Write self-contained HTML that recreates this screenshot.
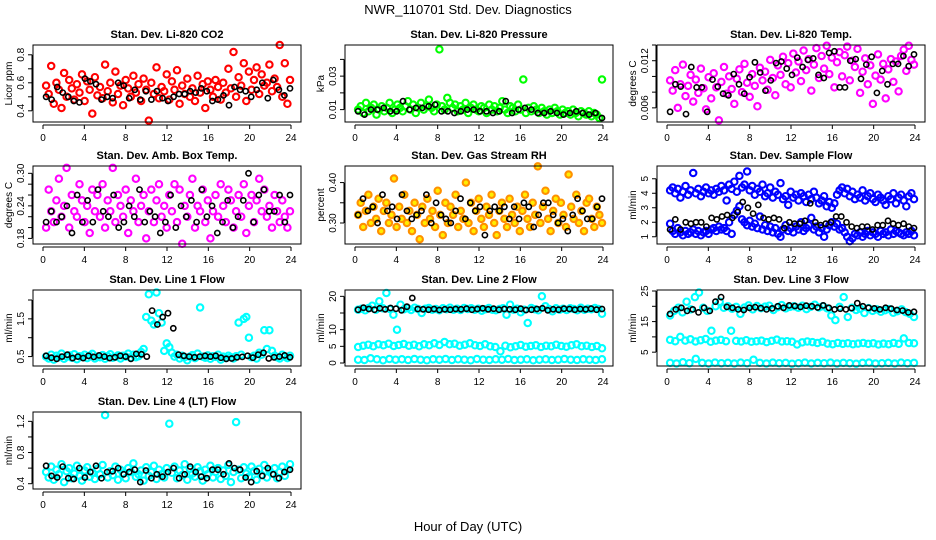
<!DOCTYPE html>
<html><head><meta charset="utf-8"><style>
html,body{margin:0;padding:0;background:#fff;}
svg{display:block;font-family:"Liberation Sans",Arial,sans-serif;}
</style></head><body>
<svg id="chart" width="936" height="540" viewBox="0 0 936 540" xmlns="http://www.w3.org/2000/svg">
<text x="468" y="14" text-anchor="middle" font-size="13">NWR_110701  Std. Dev. Diagnostics</text>
<text x="468" y="531" text-anchor="middle" font-size="13">Hour of Day (UTC)</text>
</svg>
<script>
// ---- data ----
const xTicks = [0,4,8,12,16,20,24];
const co2Red = [.58,.52,.72,.45,.60,.55,.42,.67,.50,.62,.56,.48,.59,.53,.66,.47,.61,.55,.38,.64,.51,.57,.49,.73,.54,.60,.46,.68,.52,.58,.44,.62,.56,.50,.65,.53,.59,.47,.63,.55,.33,.60,.52,.71,.49,.57,.54,.66,.48,.61,.55,.69,.45,.58,.52,.63,.50,.56,.47,.65,.53,.59,.42,.61,.55,.50,.62,.57,.48,.60,.53,.70,.56,.82,.50,.64,.58,.74,.47,.68,.55,.62,.71,.52,.66,.58,.60,.73,.54,.63,.57,.87,.50,.74,.45,.62];
const co2Black = [.50,.48,.57,.53,.50,.47,.46,.63,.61,.59,.48,.50,.49,.60,.58,.49,.55,.48,.54,.48,.54,.49,.47,.50,.52,.52,.54,.53,.56,.54,.47,.48,.51,.44,.57,.55,.54,.50,.55,.60,.49,.62,.55,.51,.56];
const presGreen = [.010,.012,.008,.014,.009,.011,.013,.007,.010,.012,.009,.011,.014,.008,.010,.013,.011,.009,.012,.015,.010,.013,.008,.011,.014,.010,.012,.016,.011,.009,.013,.046,.012,.010,.017,.014,.011,.013,.009,.012,.010,.014,.008,.011,.013,.010,.009,.012,.011,.008,.013,.010,.012,.009,.011,.015,.010,.008,.012,.011,.009,.013,.010,.028,.008,.011,.009,.012,.010,.008,.011,.009,.007,.010,.008,.011,.009,.007,.010,.008,.009,.007,.010,.008,.006,.009,.008,.007,.009,.006,.008,.007,.005,.028];
const presBlack = [.009,.007,.010,.010,.011,.009,.009,.015,.010,.011,.011,.012,.013,.009,.009,.008,.009,.010,.010,.009,.009,.008,.009,.015,.008,.010,.011,.010,.008,.008,.009,.008,.007,.008,.009,.008,.007,.008,.005];
const tempMag = [9.5,8.2,10.8,6.0,9.0,11.5,7.5,8.8,10.2,6.8,9.6,7.9,11.0,8.5,5.8,9.9,7.2,10.4,8.6,4.4,9.3,11.2,7.8,10.0,8.4,6.5,9.7,10.9,8.0,11.6,9.2,7.4,10.3,8.8,6.2,11.1,9.5,10.6,8.3,12.1,9.8,7.6,11.4,10.2,12.5,9.0,11.7,8.6,12.9,10.5,11.9,9.4,13.3,10.8,12.2,8.2,11.5,13.6,9.8,12.6,11.0,13.9,10.3,12.4,8.6,11.8,13.1,10.0,12.7,13.8,9.5,12.0,11.2,13.5,7.9,10.6,12.3,9.0,11.4,6.5,10.1,12.8,9.6,11.6,7.2,10.9,12.2,9.3,11.9,8.1,12.6,13.4,10.7,13.9,12.1,11.5];
const tempBlack = [5.5,9.0,8.7,5.2,11.2,8.6,8.6,5.5,9.6,8.7,7.8,7.6,10.3,9.0,7.8,9.9,11.8,10.5,8.2,9.5,11.7,11.9,11.0,10.2,12.4,11.2,12.1,12.3,10.2,9.8,13.0,13.2,8.6,8.6,12.0,12.2,9.7,11.5,12.5,7.9,10.7,9.0,11.6,11.6,12.6,11.3,12.8];
const ambMag = [.20,.27,.23,.21,.25,.29,.22,.24,.31,.20,.26,.23,.22,.28,.25,.21,.24,.19,.27,.23,.26,.22,.28,.20,.25,.23,.31,.21,.26,.24,.22,.27,.19,.25,.23,.29,.21,.24,.26,.18,.23,.27,.21,.25,.28,.22,.24,.20,.26,.23,.28,.21,.27,.17,.24,.22,.26,.29,.20,.24,.23,.27,.21,.25,.18,.23,.26,.22,.28,.24,.21,.27,.25,.20,.23,.26,.22,.28,.19,.24,.26,.21,.25,.29,.23,.27,.22,.24,.20,.26,.23,.21,.25,.22,.20,.23];
const ambBlack = [.21,.23,.21,.22,.24,.19,.26,.21,.25,.21,.27,.23,.22,.26,.20,.21,.24,.22,.27,.21,.23,.22,.19,.21,.26,.20,.24,.22,.25,.21,.27,.22,.24,.19,.21,.25,.20,.22,.25,.30,.21,.26,.27,.23,.23,.26,.21,.26];
const rhOrange = [.32,.35,.29,.33,.37,.30,.34,.31,.36,.28,.33,.35,.30,.32,.41,.29,.34,.31,.37,.30,.33,.28,.35,.32,.26,.34,.30,.36,.31,.33,.29,.38,.32,.27,.35,.30,.34,.32,.37,.29,.33,.31,.40,.30,.35,.28,.33,.36,.31,.29,.34,.32,.37,.30,.27,.33,.35,.31,.29,.36,.32,.30,.34,.28,.33,.37,.31,.29,.35,.32,.44,.30,.34,.38,.31,.28,.33,.36,.30,.35,.32,.29,.42,.34,.31,.37,.30,.33,.28,.35,.36,.31,.29,.34,.32,.30];
const rhBlack = [.32,.36,.33,.34,.30,.37,.33,.34,.31,.37,.33,.31,.32,.33,.37,.30,.35,.32,.31,.30,.33,.36,.31,.35,.33,.34,.27,.33,.34,.33,.34,.31,.34,.31,.35,.34,.29,.32,.35,.35,.32,.30,.31,.28,.32,.36,.33,.31,.31,.34,.36];
const flowUpper = [4.2,4.4,4.0,4.3,3.7,4.1,4.5,3.9,4.2,5.4,4.0,4.3,3.8,4.1,4.4,4.0,4.2,3.9,4.3,4.1,4.5,4.2,3.5,4.6,4.3,4.8,4.1,5.2,4.4,4.6,5.5,4.2,4.5,3.9,4.3,4.1,4.6,3.8,4.0,4.4,3.7,4.1,3.9,4.7,3.6,3.8,3.2,4.1,3.7,3.9,3.5,4.0,3.8,3.4,3.9,3.6,4.1,3.7,3.3,3.5,3.8,3.1,3.4,3.0,3.3,3.9,4.2,4.4,4.0,4.3,3.8,4.1,3.6,3.9,3.7,4.2,3.5,3.8,4.0,3.6,3.4,3.9,3.7,3.5,3.2,3.8,3.6,4.0,3.3,3.7,3.9,3.5,3.1,3.8,4.0,3.6];
const flowLower = [1.9,1.4,1.2,1.6,1.3,1.1,1.4,1.2,1.3,1.5,1.2,1.4,1.1,1.3,1.4,1.2,1.5,1.6,1.4,1.7,1.5,1.6,1.4,2.0,1.2,2.5,2.8,3.1,2.2,2.0,1.8,2.1,1.7,1.9,1.6,2.4,1.5,1.8,1.4,1.7,1.3,1.6,1.2,1.0,1.5,1.8,1.4,1.6,1.3,1.7,1.5,2.0,1.4,1.6,1.8,2.3,1.5,1.7,1.3,1.6,1.0,1.5,1.8,2.0,1.7,1.9,1.5,1.6,1.3,1.0,0.7,0.9,1.2,1.1,1.3,1.0,1.2,1.4,1.1,1.3,1.2,1.0,1.4,1.2,1.3,1.1,1.5,1.2,1.4,1.3,1.2,1.1,1.3,1.2,1.4,1.1];
const flowBlack = [1.5,2.2,1.5,2.0,1.9,2.0,2.0,1.7,2.3,2.2,2.4,2.5,2.3,2.7,3.4,3.0,2.6,3.2,2.3,2.2,2.3,2.2,1.6,2.0,1.9,1.9,2.1,3.3,2.0,1.8,1.9,2.0,2.4,2.4,2.0,1.7,1.6,1.7,1.7,1.5,1.8,1.8,2.1,1.9,1.8,1.9,1.7,1.6];
const line1Cyan = [.50,.45,.55,.42,.52,.48,.58,.44,.50,.53,.47,.56,.43,.51,.49,.55,.46,.52,.57,.45,.50,.48,.54,.44,.51,.56,.47,.49,.53,.45,.52,.50,.58,.47,.55,.48,.51,.62,.70,1.55,2.15,1.45,1.35,2.20,1.65,1.40,.65,.85,.75,.60,.50,.55,.45,.52,.48,.40,.50,.54,.46,.58,1.80,.50,.47,.53,.44,.51,.49,.55,.42,.50,.46,.52,.48,.45,.51,1.40,.55,1.50,1.55,1.00,.48,.52,.45,.60,.55,1.20,.70,1.20,.65,.52,.48,.45,.55,.50,.46,.52];
const line1Black = [.52,.47,.44,.50,.55,.46,.50,.46,.52,.49,.53,.50,.46,.48,.52,.50,.44,.57,.56,.50,1.72,1.35,1.55,1.65,1.25,.55,.52,.50,.48,.50,.52,.50,.52,.47,.44,.45,.48,.49,.52,.47,.55,.60,.45,.48,.50,.53,.48];
const line2Top = [16.0,16.3,15.8,16.5,17.2,16.0,18.5,16.4,21.0,16.2,14.5,10.0,17.5,16.1,16.4,15.9,16.6,16.2,15.0,16.3,16.5,16.0,16.2,15.8,16.4,16.1,16.6,16.0,16.3,15.9,16.5,16.2,16.4,16.0,16.3,15.7,16.1,16.5,16.0,15.8,16.2,16.4,14.5,17.5,16.0,16.3,15.2,16.0,12.0,16.5,16.1,15.8,20.0,17.0,16.2,15.5,16.4,16.0,16.3,15.9,16.4,16.2,15.8,16.6,16.0,16.3,16.1,16.5,16.2,14.8];
const line2Mid = [4.8,5.2,5.5,5.0,5.6,5.3,5.8,5.1,5.4,5.7,5.2,5.5,5.0,5.6,5.3,5.9,5.4,6.3,5.6,5.8,5.2,5.5,5.9,5.3,5.1,5.6,5.0,4.8,3.5,5.2,4.7,5.0,5.4,4.9,5.1,5.3,4.8,5.2,5.0,5.5,5.1,4.9,5.3,5.6,5.0,5.2,4.8,5.1,4.4];
const line2Low = [1.0,0.9,1.4,1.1,0.8,1.2,1.0,1.1,0.9,1.2,1.0,0.8,1.1,1.0,1.2,0.9,1.1,1.0,0.8,1.2,1.0,0.9,1.1,1.0,1.2,0.9,1.0,1.1,0.8,1.0,1.1,0.9,1.0,1.2,1.0,0.9,1.1,1.0,0.9,1.1];
const line2Black = [16.0,16.6,16.2,16.0,16.4,16.1,16.5,16.3,15.8,16.9,19.5,16.2,16.1,16.0,16.2,15.9,16.1,16.0,16.2,16.1,16.3,16.0,16.2,16.4,16.1,16.3,16.0,16.2,16.1,16.0,16.3,15.9,16.0,16.2,16.4,15.8,16.1,16.0,16.3,16.2,16.0,16.2,16.1,16.3,16.0,16.2];
const line3Top = [17.0,18.5,19.5,18.0,21.5,19.0,23.0,24.5,19.5,18.5,12.0,20.0,21.5,19.5,20.0,19.2,19.8,17.5,19.6,20.3,19.0,20.1,19.4,19.9,20.2,18.8,19.7,20.4,19.3,19.8,20.0,19.5,20.2,19.1,19.8,20.5,19.6,20.0,19.3,17.0,15.5,19.8,23.0,16.5,19.5,18.8,19.2,17.8,19.4,18.5,19.0,18.2,18.7,19.1,17.9,18.4,19.0,18.1,17.5,16.5];
const line3Mid = [9.0,8.6,10.0,8.8,9.2,8.5,8.9,9.3,8.4,8.8,9.0,8.6,12.0,8.7,8.5,8.9,8.4,8.6,8.8,8.3,8.7,9.1,8.5,8.6,8.4,7.5,8.2,8.5,8.3,8.0,8.4,7.8,7.6,8.0,7.7,7.9,7.6,7.8,8.0,7.7,7.9,7.5,7.8,7.6,8.0,7.7,9.5,8.0,7.9];
const line3Low = [1.5,1.3,1.7,1.4,2.8,1.5,1.3,1.6,1.4,1.5,1.3,1.6,1.4,2.5,1.5,1.3,1.6,1.4,1.5,1.2,1.4,1.6,1.3,1.5,1.4,1.6,1.3,1.5,1.4,1.2,1.5,1.6,1.3,1.4,1.5,1.3,1.6,1.4,1.5];
const line3Black = [17.5,19.0,19.5,18.5,19.0,18.0,19.5,18.5,21.5,23.0,19.8,19.5,19.0,18.8,19.5,19.7,19.4,19.0,19.3,20.0,19.5,20.3,20.1,19.8,20.2,20.0,19.6,20.3,19.5,19.0,19.2,19.0,19.4,21.0,20.0,19.5,19.3,19.0,19.5,19.2,18.8,18.6,18.0,18.2];
const line4Cyan = [.55,.48,.62,.45,.58,.52,.65,.42,.56,.60,.47,.53,.63,.50,.44,.57,.61,.49,.54,.46,.59,.52,.64,1.28,.48,.56,.51,.62,.45,.58,.53,.47,.60,.55,.66,.49,.52,.57,.44,.61,.50,.55,.63,.46,.58,.52,.48,.60,1.17,.54,.62,.47,.57,.51,.65,.45,.59,.53,.49,.61,.56,.44,.58,.52,.63,.48,.55,.60,.46,.57,.50,.64,.42,.55,1.19,.58,.47,.61,.53,.49,.62,.56,.45,.59,.51,.64,.48,.57,.53,.60,.47,.55,.62,.50,.58,.65];
const line4Black = [.63,.50,.48,.62,.47,.46,.60,.48,.55,.63,.47,.55,.56,.60,.52,.55,.58,.42,.57,.47,.52,.49,.55,.60,.47,.52,.62,.55,.49,.47,.58,.58,.52,.66,.60,.58,.48,.42,.56,.50,.60,.52,.47,.55,.58];

const panels = [
 {name:'co2',title:'Stan. Dev. Li-820 CO2',ylab:'Licor ppm',L:33,T:45,B:122,dom:[0.32,0.87],ticks:[0.4,0.5,0.6,0.7,0.8],labels:['0.4','','0.6','','0.8'],series:[[co2Red,'#ff0000'],[co2Black,'#000']]},
 {name:'pressure',title:'Stan. Dev. Li-820 Pressure',ylab:'kPa',L:345,T:45,B:122,dom:[0.0026,0.0486],ticks:[0.01,0.02,0.03,0.04],labels:['0.01','','0.03',''],series:[[presGreen,'#00ff00'],[presBlack,'#000']]},
 {name:'li820-temp',title:'Stan. Dev. Li-820 Temp.',ylab:'degrees C',L:657,T:45,B:122,dom:[4.2,14.0],ticks:[6,8,10,12,14],labels:['0.006','','','0.012',''],series:[[tempMag,'#ff00ff'],[tempBlack,'#000']]},
 {name:'amb-box-temp',title:'Stan. Dev. Amb. Box Temp.',ylab:'degrees C',L:33,T:166,B:244,dom:[0.1697,0.3135],ticks:[0.18,0.20,0.22,0.24,0.26,0.28,0.30],labels:['0.18','','','0.24','','','0.30'],series:[[ambMag,'#ff00ff'],[ambBlack,'#000']]},
 {name:'gas-stream-rh',title:'Stan. Dev. Gas Stream RH',ylab:'percent',L:345,T:166,B:244,dom:[0.248,0.441],ticks:[0.30,0.35,0.40],labels:['0.30','','0.40'],series:[[rhOrange,'#ff9000','#ffee00'],[rhBlack,'#000']]},
 {name:'sample-flow',title:'Stan. Dev. Sample Flow',ylab:'ml/min',L:657,T:166,B:244,dom:[0.5,5.88],ticks:[1,2,3,4,5],labels:['1','2','3','4','5'],series:[[flowUpper,'#0000ff'],[flowLower,'#0000ff'],[flowBlack,'#000']]},
 {name:'line1-flow',title:'Stan. Dev. Line 1 Flow',ylab:'ml/min',L:33,T:290,B:366,dom:[0.25,2.265],ticks:[0.5,1.0,1.5,2.0],labels:['0.5','','1.5',''],series:[[line1Cyan,'#00ffff'],[line1Black,'#000']]},
 {name:'line2-flow',title:'Stan. Dev. Line 2 Flow',ylab:'ml/min',L:345,T:290,B:366,dom:[-0.9,21.9],ticks:[0,5,10,15,20],labels:['0','5','10','','20'],series:[[line2Top,'#00ffff'],[line2Mid,'#00ffff'],[line2Low,'#00ffff'],[line2Black,'#000']]},
 {name:'line3-flow',title:'Stan. Dev. Line 3 Flow',ylab:'ml/min',L:657,T:290,B:366,dom:[0.48,25.33],ticks:[5,10,15,20,25],labels:['5','','15','','25'],series:[[line3Top,'#00ffff'],[line3Mid,'#00ffff'],[line3Low,'#00ffff'],[line3Black,'#000']]},
 {name:'line4-flow',title:'Stan. Dev. Line 4 (LT) Flow',ylab:'ml/min',L:33,T:412,B:489,dom:[0.332,1.32],ticks:[0.4,0.6,0.8,1.0,1.2],labels:['0.4','','0.8','','1.2'],series:[[line4Cyan,'#00ffff'],[line4Black,'#000']]}
];

const NS='http://www.w3.org/2000/svg';
const svg=document.getElementById('chart');
function mk(tag,attrs,parent){const e=document.createElementNS(NS,tag);for(const k in attrs)e.setAttribute(k,attrs[k]);parent.appendChild(e);return e;}

panels.forEach(p=>{
  const W=268,R=p.L+W;
  const xs=h=>p.L+10+h*(W-20)/24;
  const ys=v=>p.B-(v-p.dom[0])/(p.dom[1]-p.dom[0])*(p.B-p.T);
  const g=mk('g',{},svg);
  
  
  const t=mk('text',{x:p.L+W/2,y:p.T-7,'text-anchor':'middle','font-size':'11','font-weight':'bold'},g);
  t.textContent=p.title;
  
  
  const pg=mk('g',{},g);
  
  
  p.series.forEach(s=>{
    const vals=s[0],n=vals.length,isBlack=s[1]==='#000';
    vals.forEach((v,i)=>{
      const h=0.3+i*23.6/(n-1);
      const c=mk('circle',{cx:xs(h).toFixed(1),cy:ys(v).toFixed(1),r:isBlack?2.6:3.2,fill:s[2]||'none',stroke:s[1],'stroke-width':isBlack?1.6:2.1},pg);
      
      
    });
  });
  const box=mk('rect',{x:p.L,y:p.T,width:W,height:p.B-p.T,fill:'none',stroke:'#000','stroke-width':1},g);
  
  
  const xa=mk('g',{},g);
  
  
  mk('line',{x1:xs(0),x2:xs(24),y1:p.B+3,y2:p.B+3,stroke:'#000'},xa);
  xTicks.forEach(h=>{
    mk('line',{x1:xs(h),x2:xs(h),y1:p.B+3,y2:p.B+7,stroke:'#000'},xa);
    const tx=mk('text',{x:xs(h),y:p.B+19,'text-anchor':'middle','font-size':'10'},xa);
    tx.textContent=h;
  });
  const ya=mk('g',{},g);
  
  
  mk('line',{x1:p.L-1,x2:p.L-1,y1:ys(p.ticks[0]),y2:ys(p.ticks[p.ticks.length-1]),stroke:'#000'},ya);
  p.ticks.forEach((v,i)=>{
    const y=ys(v);
    mk('line',{x1:p.L-5,x2:p.L-1,y1:y,y2:y,stroke:'#000'},ya);
    if(p.labels[i]){
      const tx=mk('text',{x:0,y:0,'text-anchor':'middle','font-size':'10',transform:`translate(${p.L-9},${y}) rotate(-90)`},ya);
      tx.textContent=p.labels[i];
    }
  });
  const yl=mk('text',{x:0,y:0,'text-anchor':'middle','font-size':'10',transform:`translate(${p.L-21},${(p.T+p.B)/2}) rotate(-90)`},g);
  yl.textContent=p.ylab;
  
  
});
</script>
</body></html>
